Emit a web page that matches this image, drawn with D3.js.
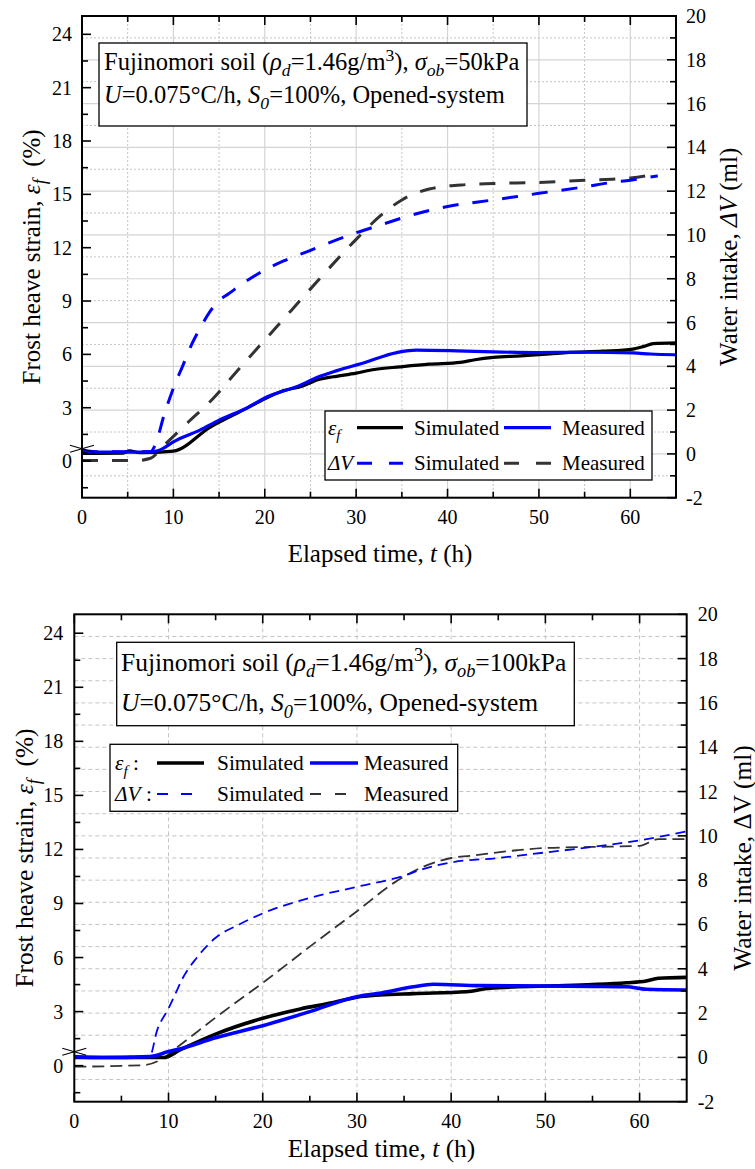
<!DOCTYPE html>
<html><head><meta charset="utf-8">
<script src="https://cdn.jsdelivr.net/npm/d3@7"></script>
<style>
body{margin:0;background:#fff}
svg{display:block}
</style>
</head><body>
<svg id="c" width="755" height="1169" font-family="'Liberation Serif', Tinos, 'Times New Roman', 'DejaVu Serif', serif"></svg>
<script>
// ---------------- DATA ----------------
const xTicks = [0, 10, 20, 30, 40, 50, 60];
const xMinorTicks = [5, 15, 25, 35, 45, 55];
const leftTicks = [0, 3, 6, 9, 12, 15, 18, 21, 24];
const leftMinorTicks = [-1.5, 1.5, 4.5, 7.5, 10.5, 13.5, 16.5, 19.5, 22.5];
const rightTicks = [-2, 0, 2, 4, 6, 8, 10, 12, 14, 16, 18, 20];
const rightMinorTicks = [-1, 1, 3, 5, 7, 9, 11, 13, 15, 17, 19];

// Top panel (sigma_ob = 50 kPa): [time h, value]
const topEpsSim = [[0,0.43],[4.5,0.45],[5.2,0.58],[6.3,0.47],[10,0.56],[14,1.9],[18,2.96],[20,3.5],[22,3.95],[24,4.2],[26,4.6],[27.5,4.74],[30,4.95],[32,5.15],[34.8,5.3],[38,5.45],[41.4,5.55],[43,5.7],[45,5.83],[48,5.92],[50.4,6.0],[53,6.1],[57,6.18],[60.3,6.3],[61.5,6.45],[62.5,6.6],[65,6.65]];
const topEpsMea = [[0,0.62],[2,0.5],[5,0.5],[8,0.55],[9,0.75],[10,1.08],[12.9,1.74],[15,2.3],[18,2.98],[20,3.55],[23.9,4.27],[25.7,4.7],[28,5.1],[31.2,5.58],[33,5.9],[34.8,6.14],[36.6,6.24],[41,6.2],[45,6.14],[50,6.1],[55,6.12],[60.3,6.08],[62.2,6.02],[65,5.98]];
const topDVSim = [[0,0.1],[7.5,0.1],[8,0.4],[9,1.8],[10,3.0],[11,4.0],[12,5.0],[13,5.8],[14,6.5],[15,7.0],[16,7.3],[18,7.9],[20,8.4],[22,8.8],[25,9.3],[28,9.8],[30,10.1],[33,10.5],[36,10.9],[40,11.3],[45,11.6],[50,11.9],[55,12.2],[58,12.4],[60,12.5],[63,12.7]];
const topDVMea = [[0,-0.3],[4.5,-0.3],[6,-0.3],[7.5,-0.2],[9,0.4],[11.5,1.4],[14.4,2.55],[17,3.8],[20,5.2],[23,6.6],[26,8.0],[30,9.8],[33,11.0],[35,11.6],[38,12.1],[42,12.3],[45,12.35],[50,12.4],[55,12.5],[60,12.6],[63,12.8]];

// Bottom panel (sigma_ob = 100 kPa)
const botEpsSim = [[0,0.45],[5,0.45],[9.5,0.45],[11.2,0.87],[15,1.75],[20,2.63],[24,3.15],[27.5,3.5],[30,3.8],[32.4,3.92],[36,4.0],[41.6,4.1],[44.1,4.3],[50.1,4.42],[55,4.5],[58.6,4.6],[60.7,4.7],[62,4.85],[65,4.9]];
const botEpsMea = [[0,0.5],[3,0.45],[8,0.5],[10,0.78],[11.2,0.93],[15,1.55],[20,2.22],[25,3.0],[30,3.83],[32.4,4.02],[36,4.38],[38.1,4.52],[43,4.44],[50.1,4.42],[55,4.4],[58.6,4.38],[60.7,4.24],[65,4.2]];
const botDVSim = [[0,0.0],[8,0.05],[8.8,1.23],[10,2.21],[10.9,3.03],[11.4,3.49],[13,4.5],[15,5.4],[17.5,6.0],[20,6.5],[25,7.2],[30,7.7],[35,8.2],[37,8.5],[40,8.8],[45,9.0],[50,9.25],[55,9.5],[60,9.8],[65,10.2]];
const botDVMea = [[0,-0.42],[7.35,-0.35],[9.1,-0.12],[11.2,0.55],[15,1.8],[20.4,3.49],[25,5.0],[30,6.6],[34,7.9],[37,8.6],[40,9.0],[42,9.1],[47,9.35],[50,9.45],[55,9.5],[60,9.55],[62,9.85],[65,9.85]];

const legSim = "Simulated", legMea = "Measured";

// ---------------- HELPERS ----------------
const svg = d3.select("#c");

function rich(textSel, parts, fs) {
  let cur = 0;
  parts.forEach(p => {
    const ts = textSel.append("tspan").text(p.t);
    if (p.i) ts.attr("font-style", "italic");
    let shift = 0;
    if (p.sub) { shift = 0.26 * fs; ts.attr("font-size", 0.72 * fs); }
    if (p.sup) { shift = -0.38 * fs; ts.attr("font-size", 0.72 * fs); }
    if (shift !== cur) { ts.attr("dy", shift - cur); cur = shift; }
  });
}

function panel(cfg) {
  const g = svg.append("g");
  const x = d3.scaleLinear().domain([0, 65]).range([cfg.L, cfg.R]);
  const yL = d3.scaleLinear().domain(cfg.yLdom).range([cfg.B, cfg.T]);
  const yR = d3.scaleLinear().domain([-2, 20]).range([cfg.B, cfg.T]);

  const grid = g.append("g");
  if (cfg.gridStyle === "mixed") {
    xTicks.filter(v => v > 0).forEach(v => grid.append("line").attr("x1", x(v)).attr("x2", x(v)).attr("y1", cfg.T).attr("y2", cfg.B).attr("stroke", "#d4d4d4").attr("stroke-width", 1.2));
    xMinorTicks.forEach(v => grid.append("line").attr("x1", x(v)).attr("x2", x(v)).attr("y1", cfg.T).attr("y2", cfg.B).attr("stroke", "#c4c4c4").attr("stroke-width", 1).attr("stroke-dasharray", "2,2"));
    rightTicks.filter(v => v > -2 && v < 20).forEach(v => grid.append("line").attr("x1", cfg.L).attr("x2", cfg.R).attr("y1", yR(v)).attr("y2", yR(v)).attr("stroke", "#d4d4d4").attr("stroke-width", 1.2));
    rightMinorTicks.forEach(v => grid.append("line").attr("x1", cfg.L).attr("x2", cfg.R).attr("y1", yR(v)).attr("y2", yR(v)).attr("stroke", "#c4c4c4").attr("stroke-width", 1).attr("stroke-dasharray", "2,2"));
  } else {
    xTicks.filter(v => v > 0).forEach(v => grid.append("line").attr("x1", x(v)).attr("x2", x(v)).attr("y1", cfg.T).attr("y2", cfg.B).attr("stroke", "#c4c4c4").attr("stroke-width", 1).attr("stroke-dasharray", "4,3"));
    rightTicks.concat(rightMinorTicks).filter(v => v > -2 && v < 20).forEach(v => grid.append("line").attr("x1", cfg.L).attr("x2", cfg.R).attr("y1", yR(v)).attr("y2", yR(v)).attr("stroke", "#c4c4c4").attr("stroke-width", 1).attr("stroke-dasharray", "4,3"));
  }

  const cid = "clip" + cfg.id;
  g.append("clipPath").attr("id", cid).append("rect").attr("x", cfg.L).attr("y", cfg.T).attr("width", cfg.R - cfg.L).attr("height", cfg.B - cfg.T);
  const plot = g.append("g").attr("clip-path", `url(#${cid})`);
  cfg.series.forEach(s => {
    const ys = s.axis === "L" ? yL : yR;
    const line = d3.line().x(d => x(d[0])).y(d => ys(d[1])).curve(d3.curveMonotoneX);
    plot.append("path").datum(s.data).attr("d", line).attr("fill", "none")
      .attr("stroke", s.color).attr("stroke-width", s.w)
      .attr("stroke-dasharray", s.dash || null)
      .attr("stroke-linejoin", "round");
  });

  const tb = cfg.title;
  g.append("rect").attr("x", tb.x).attr("y", tb.y).attr("width", tb.w).attr("height", tb.h).attr("fill", "#fff").attr("stroke", "#000").attr("stroke-width", 1.3);
  tb.lines.forEach((ln, i) => {
    const t = g.append("text").attr("x", tb.tx).attr("y", tb.ty[i]).attr("font-size", tb.fs);
    rich(t, ln, tb.fs);
  });

  const lg = cfg.legend;
  g.append("rect").attr("x", lg.x).attr("y", lg.y).attr("width", lg.w).attr("height", lg.h).attr("fill", "#fff").attr("stroke", "#000").attr("stroke-width", 1.3);
  lg.rows.forEach((row, i) => {
    const yy = lg.rowY[i];
    const t = g.append("text").attr("x", lg.symX).attr("y", yy).attr("dy", "0.33em").attr("font-size", lg.fs);
    rich(t, row.sym, lg.fs);
    row.items.forEach((it, j) => {
      const [a, b] = lg.lineX[j];
      g.append("line").attr("x1", a).attr("x2", b).attr("y1", yy).attr("y2", yy)
        .attr("stroke", it.s.color).attr("stroke-width", it.s.lw || it.s.w).attr("stroke-dasharray", it.s.ldash || null);
      g.append("text").attr("x", lg.textX[j]).attr("y", yy).attr("dy", "0.33em").attr("font-size", lg.fs).text(it.label);
    });
  });

  g.append("rect").attr("x", cfg.L).attr("y", cfg.T).attr("width", cfg.R - cfg.L).attr("height", cfg.B - cfg.T).attr("fill", "none").attr("stroke", "#000").attr("stroke-width", 2);
  const tk = g.append("g").attr("stroke", "#000").attr("stroke-width", 1.6);
  const MJ = 9, MN = 6;
  xTicks.forEach(v => {
    tk.append("line").attr("x1", x(v)).attr("x2", x(v)).attr("y1", cfg.B).attr("y2", cfg.B - MJ);
    tk.append("line").attr("x1", x(v)).attr("x2", x(v)).attr("y1", cfg.T).attr("y2", cfg.T + MJ);
  });
  xMinorTicks.forEach(v => {
    tk.append("line").attr("x1", x(v)).attr("x2", x(v)).attr("y1", cfg.B).attr("y2", cfg.B - MN);
    tk.append("line").attr("x1", x(v)).attr("x2", x(v)).attr("y1", cfg.T).attr("y2", cfg.T + MN);
  });
  leftTicks.forEach(v => tk.append("line").attr("x1", cfg.L).attr("x2", cfg.L + MJ).attr("y1", yL(v)).attr("y2", yL(v)));
  leftMinorTicks.forEach(v => tk.append("line").attr("x1", cfg.L).attr("x2", cfg.L + MN).attr("y1", yL(v)).attr("y2", yL(v)));
  rightTicks.forEach(v => tk.append("line").attr("x1", cfg.R).attr("x2", cfg.R - MJ).attr("y1", yR(v)).attr("y2", yR(v)));
  rightMinorTicks.forEach(v => tk.append("line").attr("x1", cfg.R).attr("x2", cfg.R - MN).attr("y1", yR(v)).attr("y2", yR(v)));

  const by = cfg.breakY;
  tk.append("line").attr("x1", cfg.L - 12).attr("x2", cfg.L + 12).attr("y1", by - 3.5).attr("y2", by + 3.5).attr("stroke-width", 1.1);
  tk.append("line").attr("x1", cfg.L - 12).attr("x2", cfg.L + 12).attr("y1", by + 3.5).attr("y2", by - 3.5).attr("stroke-width", 1.1);

  const TF = 20;
  xTicks.forEach(v => g.append("text").attr("x", x(v)).attr("y", cfg.B + cfg.xLabOff).attr("text-anchor", "middle").attr("font-size", TF).text(v));
  leftTicks.forEach(v => g.append("text").attr("x", cfg.L - cfg.yLabGap).attr("y", yL(v)).attr("dy", "0.35em").attr("text-anchor", "end").attr("font-size", TF).text(v));
  rightTicks.forEach(v => g.append("text").attr("x", cfg.R + cfg.yLabGap).attr("y", yR(v)).attr("dy", "0.35em").attr("text-anchor", "start").attr("font-size", TF).text(v));

  const AF = cfg.AF;
  const xt = g.append("text").attr("x", (cfg.L + cfg.R) / 2 + 1).attr("y", cfg.xTitleY).attr("text-anchor", "middle").attr("font-size", AF);
  rich(xt, [{t: "Elapsed time, "}, {t: "t", i: true}, {t: " (h)"}], AF);
  const ylt = g.append("text").attr("transform", `translate(${cfg.yTitleLX},${(cfg.T + cfg.B) / 2}) rotate(-90)`).attr("text-anchor", "middle").attr("dy", "0.35em").attr("font-size", AF);
  rich(ylt, [{t: "Frost heave strain, "}, {t: "ε", i: true}, {t: "f", i: true, sub: true}, {t: "\u00a0\u00a0(%)"}], AF);
  const yrt = g.append("text").attr("transform", `translate(${cfg.yTitleRX},${(cfg.T + cfg.B) / 2}) rotate(-90)`).attr("text-anchor", "middle").attr("dy", "0.35em").attr("font-size", AF);
  rich(yrt, cfg.rightTitle, AF);
}

const BLUE = "#0000ff", BLK = "#000000", DGRAY = "#333333";

const tS = {
  epsSim: {data: topEpsSim, axis: "L", color: BLK, w: 3.2},
  epsMea: {data: topEpsMea, axis: "L", color: BLUE, w: 3.2},
  dvSim: {data: topDVSim, axis: "R", color: BLUE, w: 3, dash: "16,14", ldash: "15,17"},
  dvMea: {data: topDVMea, axis: "R", color: DGRAY, w: 3, dash: "16,14", ldash: "15,17"}
};
panel({
  id: "top", L: 82, R: 676, T: 16, B: 497.7, yLdom: [-2.06, 25.03], gridStyle: "mixed", AF: 25,
  breakY: 448.7, xLabOff: 26, yLabGap: 10, xTitleY: 562, yTitleLX: 31, yTitleRX: 728,
  rightTitle: [{t: "Water intake, "}, {t: "ΔV", i: true}, {t: " (ml)"}],
  series: [tS.dvMea, tS.dvSim, tS.epsSim, tS.epsMea],
  title: {x: 99, y: 43, w: 428, h: 83, tx: 104, ty: [70, 103], fs: 24.5,
    lines: [
      [{t: "Fujinomori soil ("}, {t: "ρ", i: true}, {t: "d", i: true, sub: true}, {t: "=1.46g/m"}, {t: "3", sup: true}, {t: "), "}, {t: "σ", i: true}, {t: "ob", i: true, sub: true}, {t: "=50kPa"}],
      [{t: "U", i: true}, {t: "=0.075°C/h, "}, {t: "S", i: true}, {t: "0", i: true, sub: true}, {t: "=100%, Opened-system"}]
    ]},
  legend: {x: 325, y: 411, w: 327, h: 69, fs: 21, symX: 328, rowY: [427.7, 463.3],
    lineX: [[357, 403], [504, 551]], textX: [414, 562],
    rows: [
      {sym: [{t: "ε", i: true}, {t: "f", i: true, sub: true}], items: [{s: tS.epsSim, label: legSim}, {s: tS.epsMea, label: legMea}]},
      {sym: [{t: "ΔV", i: true}], items: [{s: tS.dvSim, label: legSim}, {s: tS.dvMea, label: legMea}]}
    ]}
});

const bS = {
  epsSim: {data: botEpsSim, axis: "L", color: BLK, w: 3.6},
  epsMea: {data: botEpsMea, axis: "L", color: BLUE, w: 3.6},
  dvSim: {data: botDVSim, axis: "R", color: BLUE, w: 1.8, dash: "10,6", ldash: "11,13"},
  dvMea: {data: botDVMea, axis: "R", color: DGRAY, w: 1.8, dash: "12,6", ldash: "11,14"}
};
panel({
  id: "bot", L: 74.3, R: 686.7, T: 614.3, B: 1101.7, yLdom: [-2.0, 25.05], gridStyle: "dashed", AF: 25.4,
  breakY: 1051.7, xLabOff: 26, yLabGap: 11, xTitleY: 1157, yTitleLX: 24, yTitleRX: 742,
  rightTitle: [{t: "Water intake, ΔV (ml)"}],
  series: [bS.dvMea, bS.dvSim, bS.epsSim, bS.epsMea],
  title: {x: 116.7, y: 642.3, w: 457.6, h: 83.4, tx: 121, ty: [670.7, 711], fs: 25.5,
    lines: [
      [{t: "Fujinomori soil ("}, {t: "ρ", i: true}, {t: "d", i: true, sub: true}, {t: "=1.46g/m"}, {t: "3", sup: true}, {t: "), "}, {t: "σ", i: true}, {t: "ob", i: true, sub: true}, {t: "=100kPa"}],
      [{t: "U", i: true}, {t: "=0.075°C/h, "}, {t: "S", i: true}, {t: "0", i: true, sub: true}, {t: "=100%, Opened-system"}]
    ]},
  legend: {x: 110, y: 744.3, w: 347.7, h: 67, fs: 21.4, symX: 115, rowY: [763, 794],
    lineX: [[157, 204], [310, 358]], textX: [217, 364],
    rows: [
      {sym: [{t: "ε", i: true}, {t: "f", i: true, sub: true}, {t: " :"}], items: [{s: bS.epsSim, label: legSim}, {s: bS.epsMea, label: legMea}]},
      {sym: [{t: "ΔV", i: true}, {t: " :"}], items: [{s: bS.dvSim, label: legSim}, {s: bS.dvMea, label: legMea}]}
    ]}
});
</script>
</body></html>
